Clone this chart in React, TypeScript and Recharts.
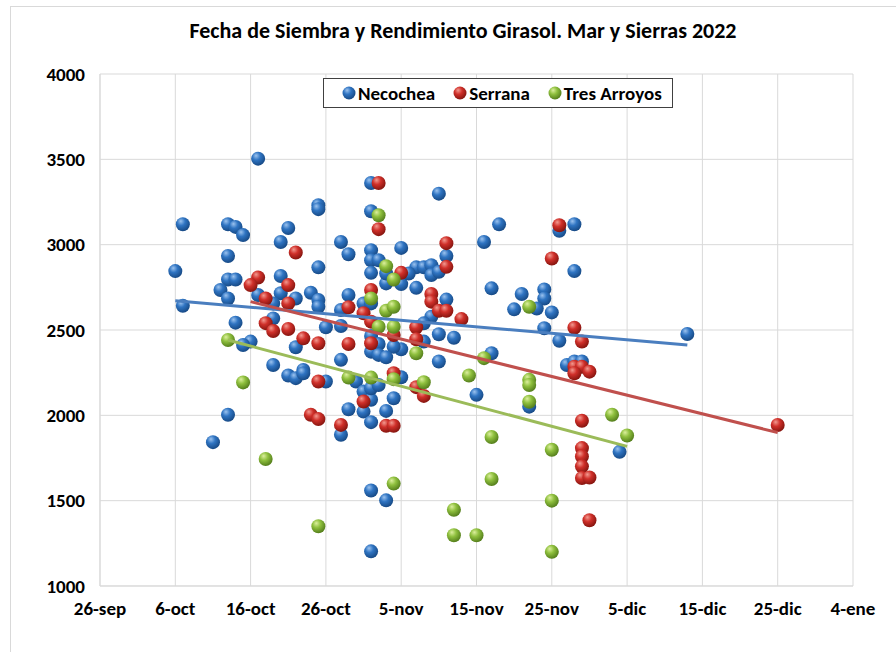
import {
  Legend,
  CartesianGrid,
  Scatter,
  ScatterChart,
  XAxis,
  YAxis
} from "recharts";

// x = days since 26-sep, y = rendimiento (kg/ha)
const dateTicks = [0, 10, 20, 30, 40, 50, 60, 70, 80, 90, 100];
const dateLabels = ["26-sep", "6-oct", "16-oct", "26-oct", "5-nov", "15-nov", "25-nov", "5-dic", "15-dic", "25-dic", "4-ene"];
const yieldTicks = [1000, 1500, 2000, 2500, 3000, 3500, 4000];

const necochea: [number, number][] = [
  [21, 3504], [11, 3120], [17, 3120], [18, 3104], [19, 3056], [25, 3098], [29, 3231], [29, 3208],
  [24, 3016], [36, 3361], [36, 3196], [32, 3016], [33, 2944], [17, 2934], [10, 2845], [29, 2867],
  [36, 2968], [36, 2909], [37, 2909], [36, 2835], [40, 2981], [17, 2796], [18, 2796], [16, 2734],
  [17, 2685], [11, 2642], [24, 2816], [24, 2715], [26, 2685], [28, 2718], [29, 2676], [29, 2636],
  [21, 2705], [23, 2568], [18, 2543], [33, 2705], [32, 2617], [35, 2655], [30, 2516], [32, 2523],
  [20, 2432], [19, 2412], [26, 2399], [32, 2325], [23, 2295], [27, 2266], [25, 2233], [26, 2218],
  [27, 2247], [30, 2198], [34, 2198], [35, 2139], [36, 2091], [35, 2022], [33, 2036], [36, 1960],
  [38, 2026], [39, 2100], [32, 1886], [17, 2003], [15, 1843], [36, 1560], [38, 1502], [36, 1203],
  [45, 3299], [53, 3119], [51, 3016], [42, 2867], [43, 2867], [44, 2880], [44, 2822], [45, 2841],
  [46, 2934], [40, 2769], [41, 2831], [38, 2773], [42, 2747], [36, 2656], [46, 2678], [44, 2578],
  [43, 2539], [52, 2744], [56, 2711], [55, 2621], [45, 2475], [47, 2455], [43, 2432], [40, 2387],
  [39, 2402], [52, 2364], [45, 2315], [50, 2120], [57, 2051], [40, 2223], [61, 3081], [63, 3120],
  [63, 2845], [59, 2738], [59, 2685], [58, 2626], [60, 2603], [59, 2510], [61, 2437], [62, 2295],
  [63, 2315], [64, 2315], [78, 2477], [69, 1786], [38, 2831], [36, 2465], [37, 2418], [36, 2373],
  [37, 2354], [38, 2340], [36, 2159], [37, 2178], [23, 2656]
];

const serrana: [number, number][] = [
  [37, 3361], [37, 3091], [26, 2954], [21, 2808], [20, 2763], [25, 2763], [22, 2685], [25, 2656],
  [33, 2633], [35, 2598], [36, 2734], [22, 2540], [23, 2494], [25, 2506], [27, 2451], [29, 2422],
  [33, 2418], [36, 2422], [29, 2198], [35, 2081], [28, 2003], [29, 1978], [32, 1944], [38, 1939],
  [39, 1939], [39, 2247], [46, 3009], [46, 2870], [40, 2835], [44, 2711], [44, 2666], [45, 2613],
  [46, 2613], [48, 2564], [36, 2549], [42, 2516], [42, 2446], [39, 2471], [42, 2165], [43, 2114],
  [61, 3114], [60, 2919], [63, 2513], [64, 2432], [63, 2285], [64, 2285], [63, 2247], [65, 2256],
  [64, 1968], [64, 1808], [64, 1759], [64, 1701], [64, 1633], [65, 1636], [65, 1385], [90, 1943]
];

const tresArroyos: [number, number][] = [
  [37, 3172], [38, 2874], [39, 2796], [36, 2685], [38, 2613], [39, 2636], [37, 2519], [39, 2519],
  [17, 2441], [19, 2193], [33, 2221], [36, 2221], [39, 2212], [22, 1744], [39, 1600], [29, 1350],
  [42, 2364], [51, 2335], [57, 2636], [43, 2194], [49, 2233], [57, 2208], [57, 2178], [57, 2080],
  [52, 1873], [52, 1627], [47, 1447], [47, 1297], [50, 1297], [68, 2003], [70, 1882], [60, 1798],
  [60, 1500], [60, 1200]
];

// linear trend lines, end points
const necocheaTrend: [number, number][] = [[10, 2672], [78, 2412]];
const serranaTrend: [number, number][] = [[20, 2666], [90, 1899]];
const tresArroyosTrend: [number, number][] = [[17, 2441], [70, 1818]];

const series = [
  { name: "Necochea", grad: "gBlue", light: "#9cc3ef", base: "#2f74c2", dark: "#174a86", line: "#4a7ebf" },
  { name: "Serrana", grad: "gRed", light: "#f29a90", base: "#d0302a", dark: "#86150f", line: "#c0504d" },
  { name: "Tres Arroyos", grad: "gGreen", light: "#dcef9e", base: "#8fc03e", dark: "#557f1c", line: "#9bbb59" }
];

const toPoints = (rows: [number, number][]) => rows.map(([x, y]) => ({ x, y }));

const FONT = "Carlito, 'Liberation Sans Narrow', 'Open Sans', sans-serif";

const sphere = (grad: string, r = 7) => (props: any) => (
  <circle cx={props.cx} cy={props.cy} r={r} fill={`url(#${grad})`} />
);

function LegendBox() {
  return (
    <div
      style={{
        boxSizing: "border-box",
        width: 350,
        height: 30,
        border: "1.5px solid #404040",
        background: "#fff",
        display: "flex",
        alignItems: "center",
        justifyContent: "flex-start",
        paddingLeft: 18,
        gap: 18,
        fontFamily: FONT,
        fontWeight: 700,
        fontSize: 19,
        color: "#000"
      }}
    >
      {series.map((s) => (
        <span key={s.name} style={{ display: "flex", alignItems: "center", gap: 2 }}>
          <svg width={14} height={14}>
            <circle cx={7} cy={7} r={6.5} fill={`url(#${s.grad})`} />
          </svg>
          {s.name}
        </span>
      ))}
    </div>
  );
}

export default function App() {
  return (
    <div style={{ position: "absolute", left: 0, top: 0, width: 896, height: 652, overflow: "hidden", background: "#fff" }}>
      <div style={{ position: "absolute", left: 10, top: 6, width: 900, height: 700, border: "1px solid #d9d9d9" }} />
      <div
        style={{
          position: "absolute",
          left: 0,
          top: 17,
          width: 926,
          textAlign: "center",
          fontFamily: FONT,
          fontWeight: 700,
          fontSize: 22,
          color: "#000"
        }}
      >
        Fecha de Siembra y Rendimiento Girasol. Mar y Sierras 2022
      </div>
      <div style={{ position: "absolute", left: 0, top: 0 }}>
        <ScatterChart width={896} height={652} margin={{ top: 74, right: 43, bottom: 36, left: 0 }}>
          <defs>
            {series.map((s) => (
              <radialGradient key={s.grad} id={s.grad} cx="40%" cy="35%" r="65%" fx="35%" fy="28%">
                <stop offset="0%" stopColor={s.light} />
                <stop offset="45%" stopColor={s.base} />
                <stop offset="100%" stopColor={s.dark} />
              </radialGradient>
            ))}
          </defs>
          <CartesianGrid stroke="#d9d9d9" strokeWidth={1} />
          <XAxis
            type="number"
            dataKey="x"
            domain={[0, 100]}
            ticks={dateTicks}
            tickFormatter={(v: number) => dateLabels[dateTicks.indexOf(v)] ?? ""}
            height={30}
            axisLine={{ stroke: "#d9d9d9" }}
            tickLine={false}
            tickMargin={10}
            tick={{ fill: "#000", fontSize: 19, fontWeight: 700, fontFamily: FONT }}
            allowDataOverflow
          />
          <YAxis
            type="number"
            dataKey="y"
            domain={[1000, 4000]}
            ticks={yieldTicks}
            width={100}
            axisLine={{ stroke: "#d9d9d9" }}
            tickLine={false}
            tickMargin={9}
            tick={{ fill: "#000", fontSize: 19, fontWeight: 700, fontFamily: FONT }}
            allowDataOverflow
          />
          <Legend
            layout="horizontal"
            verticalAlign="middle"
            align="center"
            wrapperStyle={{ left: 323, top: 78, width: 350, height: 30 }}
            content={() => <LegendBox />}
          />
          <Scatter name="Necochea" data={toPoints(necochea)} shape={sphere("gBlue")} isAnimationActive={false} />
          <Scatter name="Serrana" data={toPoints(serrana)} shape={sphere("gRed")} isAnimationActive={false} />
          <Scatter name="Tres Arroyos" data={toPoints(tresArroyos)} shape={sphere("gGreen")} isAnimationActive={false} />
          <Scatter
            data={toPoints(necocheaTrend)}
            line={{ stroke: series[0].line, strokeWidth: 3 }}
            shape={() => <g />}
            legendType="none"
            isAnimationActive={false}
          />
          <Scatter
            data={toPoints(serranaTrend)}
            line={{ stroke: series[1].line, strokeWidth: 3 }}
            shape={() => <g />}
            legendType="none"
            isAnimationActive={false}
          />
          <Scatter
            data={toPoints(tresArroyosTrend)}
            line={{ stroke: series[2].line, strokeWidth: 3 }}
            shape={() => <g />}
            legendType="none"
            isAnimationActive={false}
          />
        </ScatterChart>
      </div>
    </div>
  );
}
